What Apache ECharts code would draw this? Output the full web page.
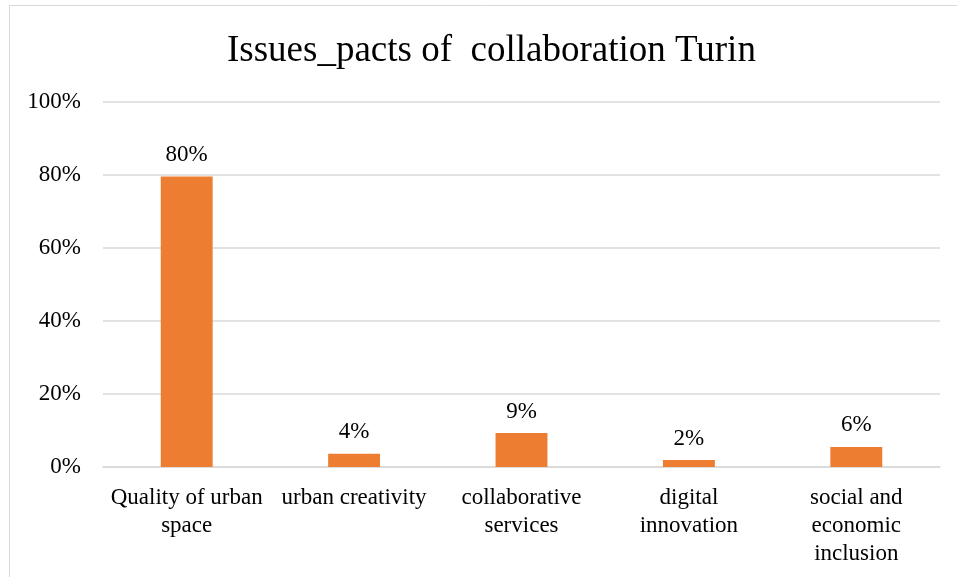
<!DOCTYPE html>
<html>
<head>
<meta charset="utf-8">
<script src="https://cdn.jsdelivr.net/npm/echarts@6/dist/echarts.min.js"></script>
<style>
  html, body { margin: 0; padding: 0; background: #fff; }
  #container { width: 957px; height: 577px; }
</style>
</head>
<body>
<div id="container"></div>
<script>
// data
var categories = [
    'Quality of urban\nspace',
    'urban creativity',
    'collaborative\nservices',
    'digital\ninnovation',
    'social and\neconomic\ninclusion'
];
var shares = [0.796, 0.036, 0.093, 0.019, 0.055];
var yTicks = [0, 0.2, 0.4, 0.6, 0.8, 1];

var serif = '"Liberation Serif", "Times New Roman", serif';

function pct(v) {
    return Math.round(v * 100) + '%';
}

var myChart = echarts.init(document.getElementById('container'));
var option = {
    backgroundColor: '#fff',
    animation: false,
    title: {
        text: 'Issues_pacts of  collaboration Turin',
        left: 222,
        top: 28,
        textStyle: {
            fontFamily: serif,
            fontSize: 37,
            fontWeight: 'normal',
            color: '#000'
        }
    },
    graphic: [{
        type: 'rect',
        shape: {x: 9.5, y: 5.5, width: 960, height: 600},
        style: {fill: 'none', stroke: '#d9d9d9', lineWidth: 1},
        silent: true
    }],
    grid: {
        left: 103,
        right: 17,
        top: 102,
        bottom: 110
    },
    xAxis: {
        type: 'category',
        data: categories,
        axisTick: {show: false},
        axisLine: {show: true, lineStyle: {color: '#d9d9d9', width: 1.5}},
        axisLabel: {
            interval: 0,
            margin: 17,
            fontFamily: serif,
            fontSize: 23,
            lineHeight: 28,
            color: '#000'
        }
    },
    yAxis: {
        type: 'value',
        min: yTicks[0],
        max: yTicks[yTicks.length - 1],
        interval: 0.2,
        axisLine: {show: false},
        axisTick: {show: false},
        splitLine: {lineStyle: {color: '#d9d9d9', width: 1.5}},
        axisLabel: {
            margin: 22,
            fontFamily: serif,
            fontSize: 23,
            color: '#000',
            formatter: function (v) { return pct(v); }
        }
    },
    series: [{
        type: 'bar',
        data: shares,
        barWidth: '31%',
        itemStyle: {color: '#ED7D31'},
        label: {
            show: true,
            position: 'top',
            distance: 10,
            fontFamily: serif,
            fontSize: 23,
            color: '#000',
            formatter: function (p) { return pct(p.value); }
        }
    }]
};

myChart.setOption(option);
</script>
</body>
</html>
